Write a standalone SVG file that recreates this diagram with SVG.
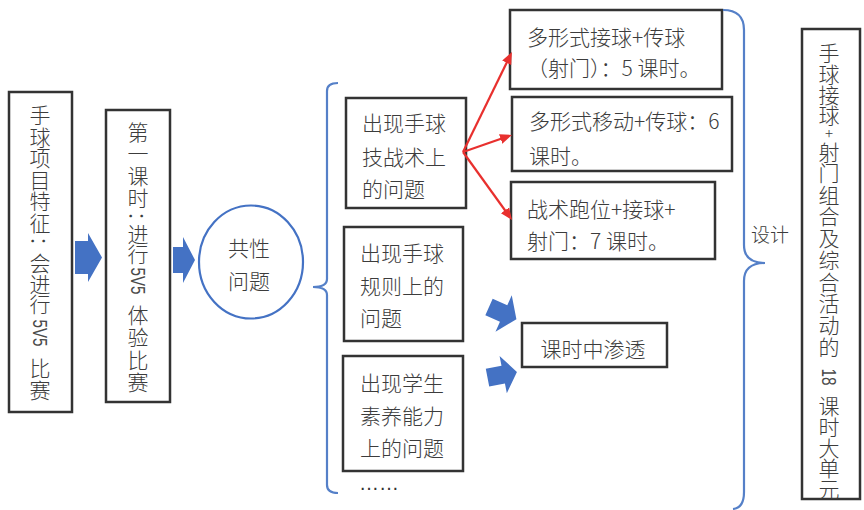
<svg xmlns="http://www.w3.org/2000/svg" width="864" height="510" viewBox="0 0 864 510">
<style>
.box{fill:#fff;stroke:#333;stroke-width:2.5}
.t{font-family:"Noto Sans CJK SC","Noto Sans CJK TC",sans-serif;font-size:21px;fill:#3c3c3c;font-weight:300}
.v{text-anchor:middle;dominant-baseline:central}
.h{dominant-baseline:central}
.lat{font-family:"Liberation Sans",Arial,sans-serif;font-size:20px;fill:#4a4a4a;text-anchor:middle;dominant-baseline:central}
.col{font-family:"Noto Sans CJK TC",sans-serif;font-size:21px;fill:#3c3c3c;text-anchor:middle;dominant-baseline:central;font-weight:300}
.blk{fill:#4472C4}
.brace{fill:none;stroke:#5580C8;stroke-width:2.2}
.red{stroke:#E8302E;stroke-width:2.2;fill:none}
</style>
<defs>
<marker id="ra" markerUnits="userSpaceOnUse" markerWidth="14" markerHeight="12" refX="8" refY="5" orient="auto">
<path d="M0,0 L12,5 L0,10 z" fill="#E8302E"/>
</marker>
</defs>
<rect width="864" height="510" fill="#fff"/>

<g id="node-feature">
<rect class="box" x="9" y="92" width="63" height="320"/>
<text class="t v" x="40 40 40 40 40 40" y="114 135.5 157 178.5 200 221.5">手球项目特征</text>
<text class="col" transform="translate(40,241) rotate(90)">：</text>
<text class="t v" x="40 40 40" y="262 282.5 303">会进行</text>
<text class="lat" transform="translate(40,333) rotate(90)" textLength="27" lengthAdjust="spacingAndGlyphs">5V5</text>
<text class="t v" x="40 40" y="367 389">比赛</text>
</g>

<g id="node-lesson1">
<rect class="box" x="106" y="110" width="64" height="292"/>
<text class="t v" x="138 138 138 138" y="131 152 175 197">第一课时</text>
<text class="col" transform="translate(138,216) rotate(90)">：</text>
<text class="t v" x="138 138" y="233 253">进行</text>
<text class="lat" transform="translate(138,281) rotate(90)" textLength="27" lengthAdjust="spacingAndGlyphs">5V5</text>
<text class="t v" x="138 138 138 138" y="314 336 359 381">体验比赛</text>
</g>

<g id="node-common">
<ellipse cx="251" cy="262" rx="52" ry="56.5" fill="#fff" stroke="#4472C4" stroke-width="2.2"/>
<text class="t v" x="249" y="247">共性</text>
<text class="t v" x="249" y="280">问题</text>
</g>

<g id="node-tech">
<rect class="box" x="346" y="98" width="120" height="110"/>
<text class="t h" x="362" y="122">出现手球</text>
<text class="t h" x="362" y="156">技战术上</text>
<text class="t h" x="362" y="188">的问题</text>
</g>

<g id="node-rule">
<rect class="box" x="344" y="227" width="119" height="114"/>
<text class="t h" x="360" y="252">出现手球</text>
<text class="t h" x="360" y="285">规则上的</text>
<text class="t h" x="360" y="317">问题</text>
</g>

<g id="node-literacy">
<rect class="box" x="343" y="356" width="120" height="115"/>
<text class="t h" x="360" y="382">出现学生</text>
<text class="t h" x="360" y="415">素养能力</text>
<text class="t h" x="360" y="447">上的问题</text>
</g>

<g id="node-ellipsis">
<text x="359" y="490" font-family="Liberation Sans, Arial, sans-serif" font-size="20" fill="#333">……</text>
</g>

<g id="node-r1">
<rect class="box" x="510" y="10" width="212" height="79"/>
<text class="t h" x="527" y="36">多形式接球+传球</text>
<text class="t h" x="527" y="67">（射门）：5 课时。</text>
</g>

<g id="node-r2">
<rect class="box" x="512" y="97" width="220" height="74"/>
<text class="t h" x="529" y="120">多形式移动+传球：6</text>
<text class="t h" x="529" y="155">课时。</text>
</g>

<g id="node-r3">
<rect class="box" x="511" y="182" width="204" height="77"/>
<text class="t h" x="527" y="208">战术跑位+接球+</text>
<text class="t h" x="527" y="240">射门：7 课时。</text>
</g>

<g id="node-infuse">
<rect class="box" x="522" y="323" width="145" height="44"/>
<text class="t v" x="593" y="348">课时中渗透</text>
</g>

<g id="node-design">
<text class="t h" x="751" y="233" style="font-size:19px">设计</text>
</g>

<g id="node-unit">
<rect class="box" x="802" y="29" width="58" height="470"/>
<text class="t v" x="829 829 829 829" y="52 73 93.5 114">手球接球</text>
<text class="t v" x="829" y="132.5" style="font-size:15px">+</text>
<text class="t v" x="829 829 829 829 829 829 829 829 829 829" y="151 172 193.5 215 237 259 281 302 324 346">射门组合及综合活动的</text>
<text class="lat" transform="translate(829,377) rotate(90)" textLength="17" lengthAdjust="spacingAndGlyphs">18</text>
<text class="t v" x="829 829 829 829 829" y="405 426 447 467 488">课时大单元</text>
</g>

<g id="connectors">
<polygon class="blk" points="75,241 88,241 88,233 102,257.5 88,282 88,274 75,274"/>
<polygon class="blk" points="173,247 183,247 183,237 195,260 183,283 183,273 173,273"/>
<polygon class="blk" transform="translate(489,307) rotate(24)" points="0,-9 16,-9 16,-20 30,0 16,20 16,9 0,9"/>
<polygon class="blk" transform="translate(487.5,377.7) rotate(-11)" points="0,-9 16,-9 16,-19 30,0 16,19 16,9 0,9"/>
<path class="brace" d="M338,83 Q327,83 327,91 L327,279 Q327,287 313,287 Q327,287 327,295 L327,485 Q327,493 338,493"/>
<path class="brace" d="M723,10 Q744,10 744,30 L744,245 Q744,263 765,263 Q744,263 744,281 L744,492 Q744,508 733,509"/>
<line class="red" x1="463" y1="152" x2="510.2" y2="55.6" marker-end="url(#ra)"/>
<line class="red" x1="463" y1="152" x2="508.2" y2="136.3" marker-end="url(#ra)"/>
<line class="red" x1="463" y1="152" x2="509.7" y2="216.8" marker-end="url(#ra)"/>
</g>
</svg>
